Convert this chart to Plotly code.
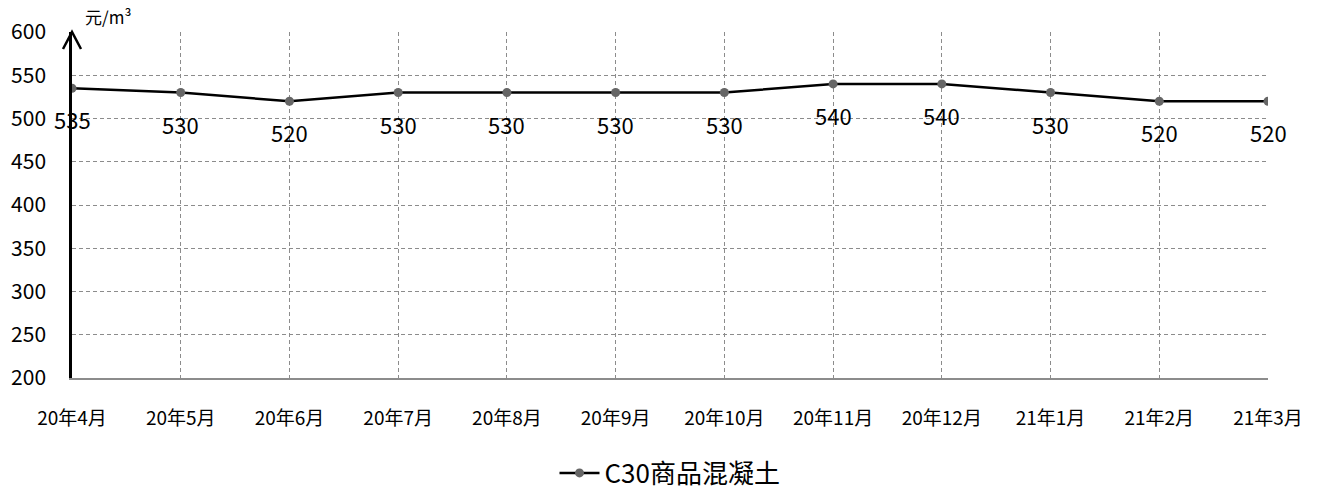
import plotly.graph_objects as go

categories = ["20年4月", "20年5月", "20年6月", "20年7月", "20年8月", "20年9月",
              "20年10月", "20年11月", "20年12月", "21年1月", "21年2月", "21年3月"]
values = [535, 530, 520, 530, 530, 530, 530, 540, 540, 530, 520, 520]
series_name = "C30商品混凝土"
y_ticks = [200, 250, 300, 350, 400, 450, 500, 550, 600]
unit_label = "元/m³"

FONT = "Noto Sans CJK SC, Noto Sans, sans-serif"
xs = list(range(len(categories)))

fig = go.Figure()
fig.add_trace(go.Scatter(
    x=xs, y=values, mode="lines+markers", name=series_name,
    line=dict(color="black", width=2.5),
    marker=dict(color="#666666", size=9),
))

annotations = []
for xi, v in zip(xs, values):
    annotations.append(dict(x=xi, y=v, xref="x", yref="y", text=str(v), showarrow=False,
                            yshift=-31, font=dict(size=22, color="black", family=FONT)))
annotations.append(dict(x=0.0092, y=1.046, xref="paper", yref="paper", text=unit_label,
                        showarrow=False, xanchor="left", yanchor="middle",
                        font=dict(size=17, color="black", family=FONT)))

fig.update_layout(
    width=1322, height=494,
    margin=dict(l=72, r=54, t=32, b=116, autoexpand=False),
    paper_bgcolor="white", plot_bgcolor="white",
    font=dict(family=FONT, color="black"),
    showlegend=True,
    legend=dict(orientation="h", x=0.5, xanchor="center", y=-0.2746, yanchor="middle",
                font=dict(size=26, family=FONT), itemwidth=40),
    annotations=annotations,
    shapes=[dict(type="path", xref="paper", yref="paper", xsizemode="pixel", ysizemode="pixel",
                 xanchor=0, yanchor=1, path="M-9,-17 L0,0 L9,-17",
                 line=dict(color="black", width=2.5))],
)
fig.update_xaxes(
    range=[0, len(categories) - 1], tickvals=xs, ticktext=categories,
    showgrid=True, gridcolor="#8c8c8c", griddash="4px,3px", gridwidth=1,
    showline=True, linecolor="#8c8c8c", linewidth=2, mirror=False,
    ticks="", ticklabelstandoff=22, tickfont=dict(size=19, family=FONT),
    zeroline=False, automargin=False,
)
fig.update_yaxes(
    range=[200, 600], tickvals=y_ticks,
    showgrid=True, gridcolor="#8c8c8c", griddash="4px,3px", gridwidth=1,
    showline=True, linecolor="black", linewidth=2.5,
    ticks="", ticklabelstandoff=19, tickfont=dict(size=21, family=FONT),
    zeroline=False, automargin=False,
)
fig.write_html("out.html", config={"displayModeBar": False},
               post_script="document.body.style.margin='0';")
